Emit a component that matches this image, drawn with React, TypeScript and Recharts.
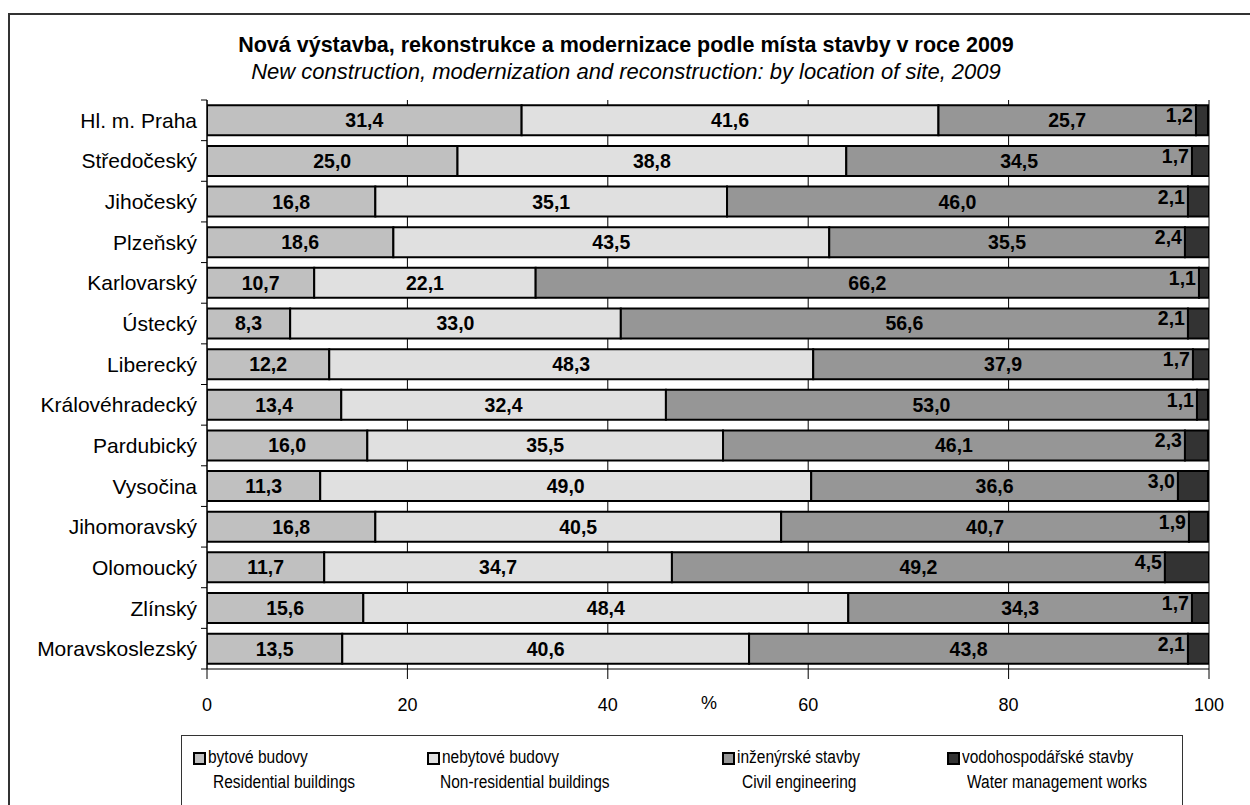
import React from "react";
import { BarChart, Bar, XAxis, YAxis, CartesianGrid, LabelList, Label } from "recharts";

const regions = [
  "Hl. m. Praha", "Středočeský", "Jihočeský", "Plzeňský", "Karlovarský", "Ústecký", "Liberecký",
  "Královéhradecký", "Pardubický", "Vysočina", "Jihomoravský", "Olomoucký", "Zlínský", "Moravskoslezský",
];
const residential = [31.4, 25.0, 16.8, 18.6, 10.7, 8.3, 12.2, 13.4, 16.0, 11.3, 16.8, 11.7, 15.6, 13.5];
const nonResidential = [41.6, 38.8, 35.1, 43.5, 22.1, 33.0, 48.3, 32.4, 35.5, 49.0, 40.5, 34.7, 48.4, 40.6];
const civil = [25.7, 34.5, 46.0, 35.5, 66.2, 56.6, 37.9, 53.0, 46.1, 36.6, 40.7, 49.2, 34.3, 43.8];
const water = [1.2, 1.7, 2.1, 2.4, 1.1, 2.1, 1.7, 1.1, 2.3, 3.0, 1.9, 4.5, 1.7, 2.1];
const xTicks = [0, 20, 40, 60, 80, 100];

const seriesNames = [
  { key: "res", cz: "bytové budovy", en: "Residential buildings", color: "#C0C0C0" },
  { key: "nonres", cz: "nebytové budovy", en: "Non-residential buildings", color: "#E0E0E0" },
  { key: "civil", cz: "inženýrské stavby", en: "Civil engineering", color: "#969696" },
  { key: "water", cz: "vodohospodářské stavby", en: "Water management works", color: "#333333" },
];

const data = regions.map((r, i) => ({
  region: r,
  res: residential[i],
  nonres: nonResidential[i],
  civil: civil[i],
  water: water[i],
}));

const FONT = "'Liberation Sans', Arial, sans-serif";
const fmt = (v: number) => Number(v).toFixed(1).replace(".", ",");

const CHART_W = 1250;
const CHART_H = 805;
const M = { top: 100, right: 41, bottom: 106, left: 0 };
const Y_W = 207;
const PLOT_H = CHART_H - M.top - M.bottom - 30;
const BAND = PLOT_H / regions.length;

const CatTick = (props: any) => {
  const { x, y, payload, index } = props;
  return (
    <g>
      <text x={x - 10} y={y} textAnchor="end" dominantBaseline="central" fontSize={21} fontFamily={FONT} fill="#000">
        {payload.value}
      </text>
      <line x1={x - 6} x2={x} y1={y - BAND / 2} y2={y - BAND / 2} stroke="#000" strokeWidth={1} />
      {index === regions.length - 1 && (
        <line x1={x - 6} x2={x} y1={y + BAND / 2} y2={y + BAND / 2} stroke="#000" strokeWidth={1} />
      )}
    </g>
  );
};

const centerLabel = (props: any) => {
  const { x, y, width, height, value } = props;
  return (
    <text x={x + width / 2} y={y + height / 2} textAnchor="middle" dominantBaseline="central"
      fontSize={19.5} fontWeight="bold" fontFamily={FONT} fill="#000">
      {fmt(value)}
    </text>
  );
};

const waterLabel = (props: any) => {
  const { x, y, height, value } = props;
  return (
    <text x={x - 3} y={y + height / 2 - 5} textAnchor="end" dominantBaseline="central"
      fontSize={19.5} fontWeight="bold" fontFamily={FONT} fill="#000">
      {fmt(value)}
    </text>
  );
};

const PercentLabel = (props: any) => {
  const vb = props.viewBox || {};
  return (
    <text x={vb.x + vb.width / 2 + 1} y={vb.y + 34} textAnchor="middle" dominantBaseline="central"
      fontSize={18} fontFamily={FONT} fill="#000">
      %
    </text>
  );
};

const legendPos = [
  { icon: 193, text2: 213 },
  { icon: 427, text2: 440 },
  { icon: 722, text2: 742 },
  { icon: 947, text2: 967 },
];

const legendText: React.CSSProperties = {
  position: "absolute",
  fontSize: 18,
  lineHeight: "20px",
  whiteSpace: "nowrap",
  transform: "scaleX(0.86)",
  transformOrigin: "left center",
};

export default function App() {
  return (
    <div style={{ position: "absolute", left: 0, top: 0, width: CHART_W, height: CHART_H, overflow: "hidden", background: "#fff", fontFamily: FONT }}>
      <div style={{ position: "absolute", left: 8, top: 13, width: 1300, height: 900, border: "2px solid #333", boxSizing: "border-box" }} />
      <div style={{ position: "absolute", left: 0, width: 1252, top: 33, textAlign: "center", fontSize: 21.5, fontWeight: "bold", lineHeight: "24px" }}>
        Nová výstavba, rekonstrukce a modernizace podle místa stavby v roce 2009
      </div>
      <div style={{ position: "absolute", left: 0, width: 1252, top: 60, textAlign: "center", fontSize: 22, fontStyle: "italic", lineHeight: "24px" }}>
        New construction, modernization and reconstruction: by location of site, 2009
      </div>
      <div style={{ position: "absolute", left: 0, top: 0 }}>
        <BarChart width={CHART_W} height={CHART_H} data={data} layout="vertical" margin={M} barCategoryGap="13%">
          <CartesianGrid horizontal={false} vertical={true} stroke="#000" strokeWidth={1} />
          <XAxis type="number" domain={[0, 100]} ticks={xTicks} allowDataOverflow interval={0}
            tickSize={10} tickMargin={19} height={30} stroke="#000"
            tick={{ fontSize: 18, fontFamily: FONT, fill: "#000" }}>
            <Label content={<PercentLabel />} />
          </XAxis>
          <XAxis xAxisId="top" orientation="top" type="number" domain={[0, 100]} tick={false} tickLine={false} height={0} stroke="#000" />
          <YAxis type="category" dataKey="region" width={Y_W} tickLine={false} tickSize={0} tickMargin={0}
            interval={0} stroke="#000" tick={<CatTick />} />
          <YAxis yAxisId="right" orientation="right" type="category" dataKey="region" width={0} tick={false} tickLine={false} stroke="#000" />
          <Bar dataKey="res" stackId="a" fill={seriesNames[0].color} stroke="#000" strokeWidth={2} isAnimationActive={false}>
            <LabelList dataKey="res" content={centerLabel} />
          </Bar>
          <Bar dataKey="nonres" stackId="a" fill={seriesNames[1].color} stroke="#000" strokeWidth={2} isAnimationActive={false}>
            <LabelList dataKey="nonres" content={centerLabel} />
          </Bar>
          <Bar dataKey="civil" stackId="a" fill={seriesNames[2].color} stroke="#000" strokeWidth={2} isAnimationActive={false}>
            <LabelList dataKey="civil" content={centerLabel} />
          </Bar>
          <Bar dataKey="water" stackId="a" fill={seriesNames[3].color} stroke="#000" strokeWidth={2} isAnimationActive={false}>
            <LabelList dataKey="water" content={waterLabel} />
          </Bar>
        </BarChart>
      </div>
      <div style={{ position: "absolute", left: 181, top: 735, width: 1002, height: 80, border: "1.5px solid #333", boxSizing: "border-box", background: "#fff" }}>
        {seriesNames.map((s, i) => (
          <React.Fragment key={s.key}>
            <div style={{ position: "absolute", left: legendPos[i].icon - 182, top: 16, width: 9, height: 9, background: s.color, border: "2px solid #000" }} />
            <div style={{ ...legendText, left: legendPos[i].icon - 182 + 15, top: 11 }}>{s.cz}</div>
            <div style={{ ...legendText, left: legendPos[i].text2 - 182, top: 36 }}>{s.en}</div>
          </React.Fragment>
        ))}
      </div>
    </div>
  );
}
